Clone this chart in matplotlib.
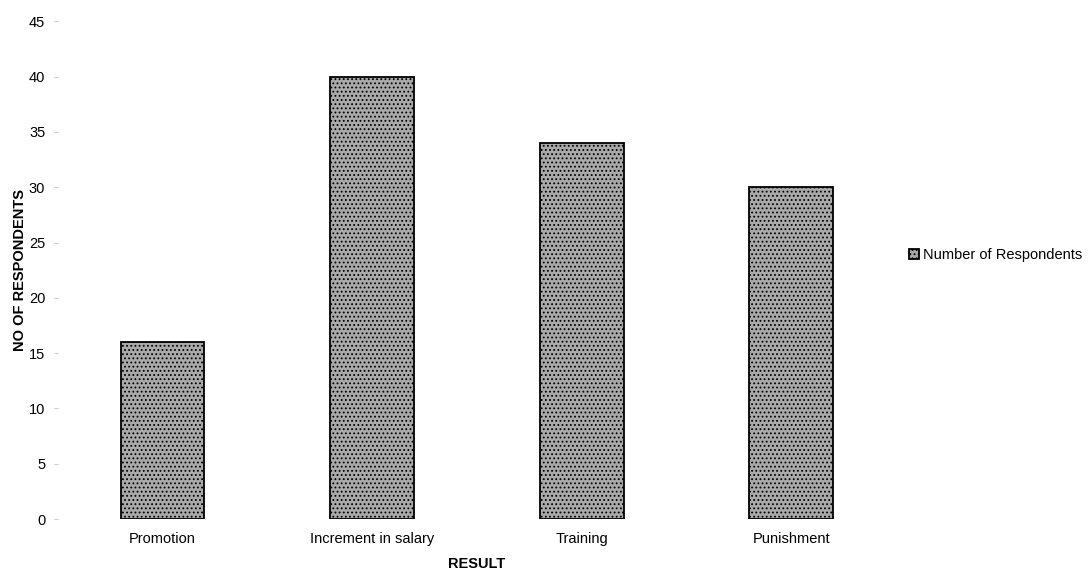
import matplotlib.pyplot as plt

categories = ['Promotion', 'Increment in salary', 'Training', 'Punishment']
respondents = [16, 40, 34, 30]
y_ticks = [0, 5, 10, 15, 20, 25, 30, 35, 40, 45]

plt.rcParams['font.family'] = ['Liberation Sans', 'DejaVu Sans']
plt.rcParams['hatch.color'] = '#7c7c7c'
plt.rcParams['hatch.linewidth'] = 0.8

fig = plt.figure(figsize=(10.9, 5.73), dpi=100)
ax = fig.add_axes([0.053, 0.094, 0.769, 0.869])

ax.bar(range(len(categories)), respondents, width=0.4,
       color='#a9a9a9', edgecolor='black', linewidth=1.3,
       hatch='....', label='Number of Respondents')

ax.set_xlim(-0.5, len(categories) - 0.5)
ax.set_ylim(0, 45)
ax.set_yticks(y_ticks)
ax.tick_params(axis='y', length=3, color='#cccccc', labelsize=10.5, pad=6)
ax.tick_params(axis='x', length=0, pad=9)
ax.set_xticks(range(len(categories)))
ax.set_xticklabels(categories, fontsize=10.5)

for s in ax.spines.values():
    s.set_visible(False)

ax.set_ylabel('NO OF RESPONDENTS', fontsize=10.5, fontweight='bold')
ax.yaxis.set_label_coords(-0.037, 0.5)
ax.set_xlabel('RESULT', fontsize=10.5, fontweight='bold', labelpad=8)

leg = ax.legend(loc='center left', bbox_to_anchor=(1.0, 0.53), frameon=False,
                fontsize=10.5, handlelength=0.7, handleheight=0.7, handletextpad=0.25)

plt.savefig('out.png', dpi=100)
